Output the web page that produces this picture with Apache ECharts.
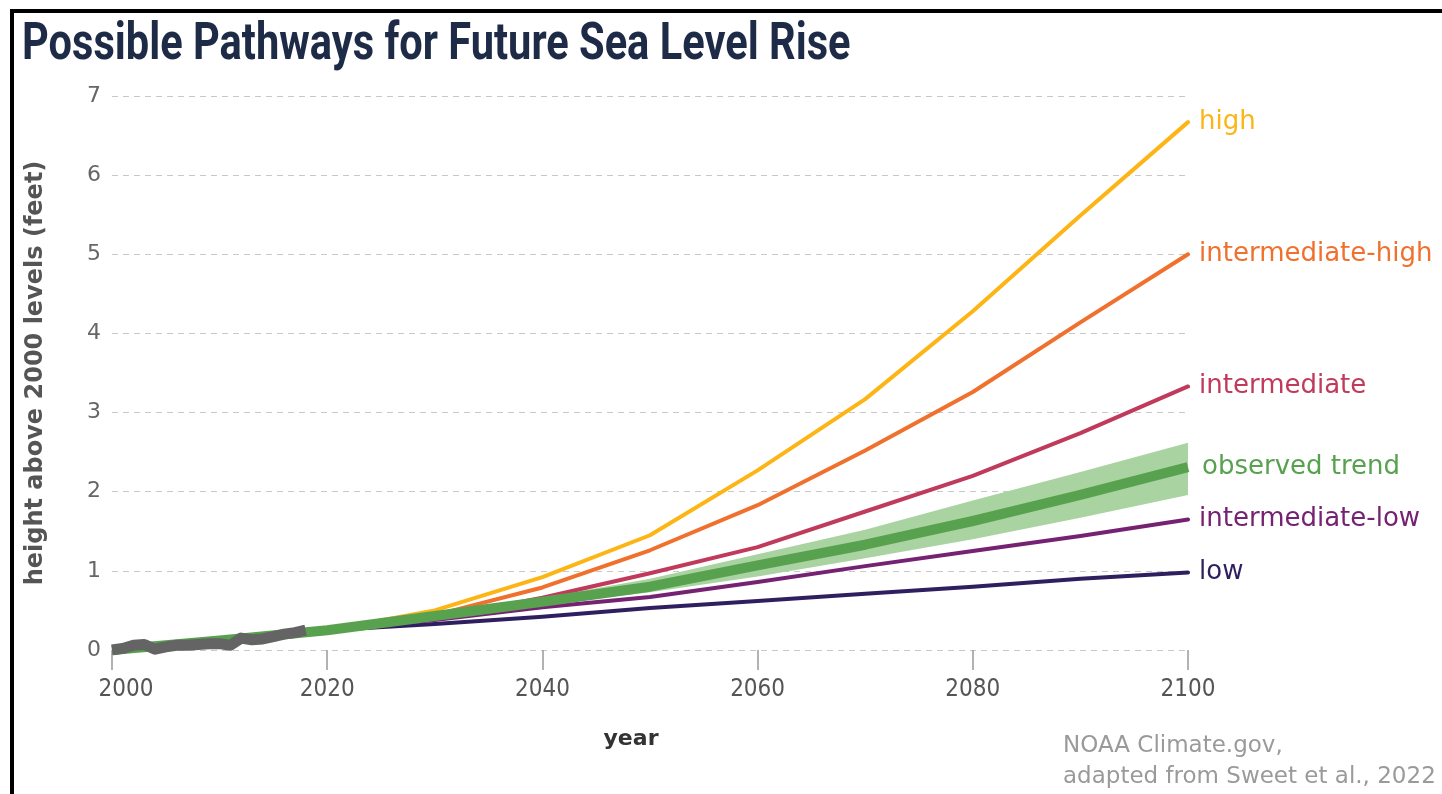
<!DOCTYPE html>
<html>
<head>
<meta charset="utf-8">
<title>Possible Pathways for Future Sea Level Rise</title>
<script src="https://cdn.jsdelivr.net/npm/echarts@6/dist/echarts.min.js"></script>
<style>
  html, body { margin: 0; padding: 0; background: #fff; }
  #chart { width: 1442px; height: 794px; }
</style>
</head>
<body>
<div id="chart"></div>
<script>
// Scenario projections (feet above 2000 levels), one value per decade
const projYears = [2020, 2030, 2040, 2050, 2060, 2070, 2080, 2090, 2100];
const high = [0.25, 0.50, 0.92, 1.45, 2.27, 3.17, 4.28, 5.49, 6.67];
const intermediateHigh = [0.25, 0.44, 0.79, 1.26, 1.83, 2.52, 3.26, 4.14, 5.00];
const intermediate = [0.25, 0.40, 0.66, 0.97, 1.30, 1.75, 2.20, 2.74, 3.33];
const intermediateLow = [0.25, 0.38, 0.54, 0.67, 0.86, 1.06, 1.25, 1.44, 1.65];
const low = [0.25, 0.33, 0.42, 0.53, 0.62, 0.71, 0.80, 0.90, 0.98];

// Extrapolated observed trend and its uncertainty band
const trendYears = [2000, 2010, 2020, 2030, 2040, 2050, 2060, 2070, 2080, 2090, 2100];
const observedTrend = [0.00, 0.12, 0.25, 0.43, 0.61, 0.80, 1.07, 1.33, 1.63, 1.96, 2.31];
const bandUpper = [0.25, 0.45, 0.66, 0.90, 1.21, 1.52, 1.89, 2.25, 2.62];
const bandLower = [0.25, 0.41, 0.57, 0.73, 0.93, 1.16, 1.40, 1.67, 1.96];

// Annual observed sea level
const obsYears = [2000, 2001, 2002, 2003, 2004, 2005, 2006, 2007, 2008, 2009,
                  2010, 2011, 2012, 2013, 2014, 2015, 2016, 2017, 2018];
const observed = [0.00, 0.02, 0.06, 0.07, 0.01, 0.04, 0.06, 0.06, 0.07, 0.08,
                  0.08, 0.06, 0.15, 0.13, 0.14, 0.17, 0.20, 0.22, 0.25];

const yTicks = [0, 1, 2, 3, 4, 5, 6, 7];
const xTicks = [2000, 2020, 2040, 2060, 2080, 2100];

const FONT = '"DejaVu Sans", Verdana, sans-serif';
const COND = '"DejaVu Sans Condensed", "DejaVu Sans", sans-serif';
const pairs = (xs, ys) => xs.map((x, i) => [x, ys[i]]);

function scenario(name, values, color) {
  return {
    name: name,
    type: 'line',
    data: pairs(projYears, values),
    showSymbol: false,
    symbol: 'none',
    lineStyle: { color: color, width: 4, cap: 'round', join: 'round' },
    itemStyle: { color: color },
    endLabel: {
      show: true,
      formatter: '{a}',
      color: color,
      fontSize: 26,
      fontFamily: FONT,
      distance: 11
    },
    z: 3
  };
}

const chart = echarts.init(document.getElementById('chart'), null, { renderer: 'canvas' });

chart.setOption({
  animation: false,
  backgroundColor: '#ffffff',
  graphic: [
    // frame lines along the top and left edges
    { type: 'rect', left: 10, top: 9, shape: { width: 1432, height: 4 }, style: { fill: '#000' }, silent: true },
    { type: 'rect', left: 10, top: 9, shape: { width: 4, height: 785 }, style: { fill: '#000' }, silent: true },
    {
      type: 'text',
      x: 22,
      y: 20,
      scaleX: 0.8,
      style: {
        text: 'Possible Pathways for Future Sea Level Rise',
        fill: '#1d2b47',
        font: 'bold 52px Roboto, "DejaVu Sans Condensed", sans-serif',
        verticalAlign: 'top'
      }
    },
    {
      type: 'text',
      left: 1063,
      top: 731,
      style: {
        text: 'NOAA Climate.gov,\nadapted from Sweet et al., 2022',
        fill: '#9a9a9a',
        font: '23px "DejaVu Sans", Verdana, sans-serif',
        lineHeight: 31
      }
    }
  ],
  grid: { left: 112, right: 254, top: 96, bottom: 144 },
  xAxis: {
    type: 'value',
    min: 2000,
    max: 2100,
    interval: 20,
    name: 'year',
    nameLocation: 'middle',
    nameGap: 78,
    nameTextStyle: {
      fontFamily: FONT,
      fontWeight: 'bold',
      fontSize: 22,
      color: '#333',
      padding: [0, 38, 0, 0]
    },
    axisLine: { show: false },
    axisTick: { show: true, length: 20, lineStyle: { color: '#999', width: 1.5 } },
    splitLine: { show: false },
    axisLabel: {
      margin: 28,
      fontFamily: COND,
      fontSize: 24,
      color: '#555',
      formatter: v => (v === xTicks[0] ? '{first|' + v + '}' : String(v)),
      rich: {
        first: { fontFamily: COND, fontSize: 24, color: '#555', padding: [0, 0, 0, 28] }
      }
    }
  },
  yAxis: {
    type: 'value',
    min: yTicks[0],
    max: yTicks[yTicks.length - 1],
    interval: 1,
    name: 'height above 2000 levels (feet)',
    nameLocation: 'middle',
    nameGap: 64,
    nameTextStyle: {
      fontFamily: FONT,
      fontWeight: 'bold',
      fontSize: 24,
      color: '#555'
    },
    axisLine: { show: false },
    axisTick: { show: false },
    axisLabel: {
      margin: 11,
      fontFamily: FONT,
      fontSize: 22,
      color: '#666'
    },
    splitLine: {
      show: true,
      lineStyle: { color: '#c8c8c8', type: [6, 5], width: 1.2 }
    }
  },
  series: [
    {
      name: 'trend range',
      type: 'custom',
      data: [0],
      z: 1,
      silent: true,
      renderItem: function (params, api) {
        const top = projYears.map((yr, i) => api.coord([yr, bandUpper[i]]));
        const bottom = projYears.map((yr, i) => api.coord([yr, bandLower[i]])).reverse();
        return {
          type: 'polygon',
          shape: { points: top.concat(bottom) },
          style: { fill: '#a9d3a0' }
        };
      }
    },
    scenario('low', low, '#2f1f5f'),
    scenario('intermediate-low', intermediateLow, '#762272'),
    scenario('intermediate', intermediate, '#c03a5b'),
    scenario('intermediate-high', intermediateHigh, '#f0702d'),
    scenario('high', high, '#fdb515'),
    {
      name: 'observed trend',
      type: 'line',
      data: pairs(trendYears, observedTrend),
      symbol: 'none',
      lineStyle: { color: '#58a24f', width: 10, join: 'round' },
      itemStyle: { color: '#58a24f' },
      endLabel: {
        show: true,
        formatter: '{a}',
        color: '#58a24f',
        fontSize: 26,
        fontFamily: FONT,
        distance: 14
      },
      z: 4
    },
    {
      name: 'observed',
      type: 'line',
      data: pairs(obsYears, observed),
      symbol: 'none',
      lineStyle: { color: '#646464', width: 11, join: 'round' },
      itemStyle: { color: '#646464' },
      z: 5
    }
  ]
});
</script>
</body>
</html>
